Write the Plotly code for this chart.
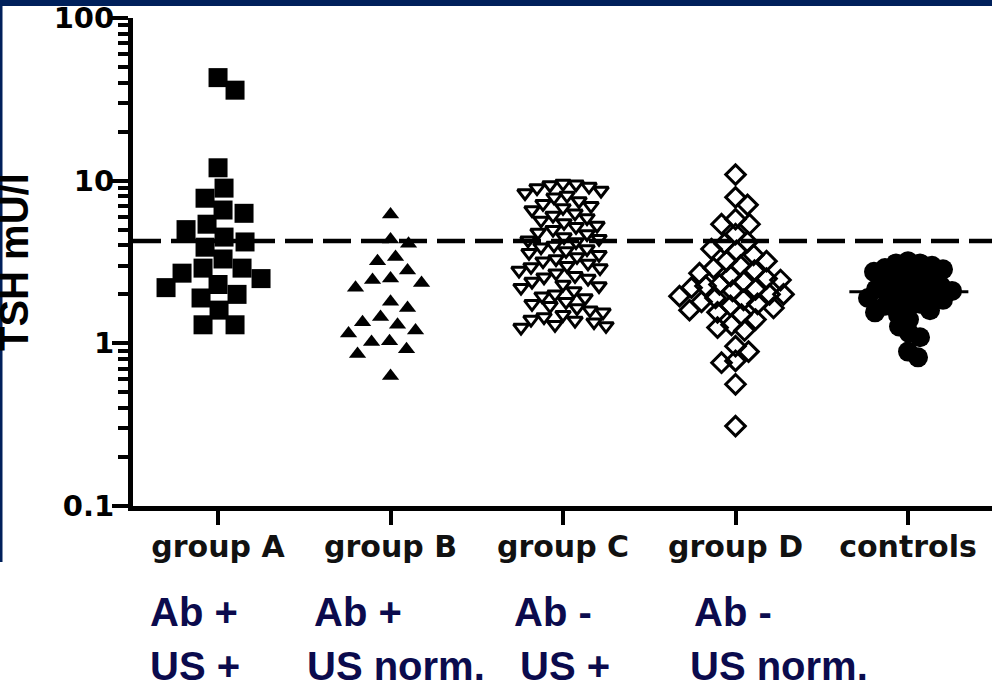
import numpy as np
import plotly.graph_objects as go

# ---------------- data ----------------
categories = ["group A", "group B", "group C", "group D", "controls"]

group_a = [43, 36, 12, 9.0, 7.8, 6.6, 6.3, 5.4, 5.0, 4.5, 4.2, 3.9, 3.3, 2.9, 2.9,
           2.7, 2.5, 2.3, 2.2, 2.0, 1.9, 1.6, 1.3, 1.3]
group_b = [6.2, 4.35, 4.1, 3.4, 3.2, 2.8, 2.5, 2.45, 2.35, 2.2, 1.8, 1.65, 1.45,
           1.35, 1.3, 1.2, 1.15, 1.03, 1.02, 0.92, 0.86, 0.63]
group_c = [9.6, 9.5, 9.4, 9.2, 9.0, 8.7, 8.4, 8.1, 7.9, 7.5, 7.2, 7.0, 6.8, 6.6,
           6.3, 6.1, 5.9, 5.7, 5.5, 5.3, 5.2, 5.0, 4.8, 4.7, 4.5, 4.4, 4.3, 4.2,
           4.0, 3.9, 3.8, 3.7, 3.6, 3.5, 3.4, 3.3, 3.2, 3.1, 3.0, 2.95, 2.9, 2.8,
           2.7, 2.6, 2.55, 2.5, 2.4, 2.3, 2.25, 2.2, 2.1, 2.0, 1.95, 1.9, 1.8,
           1.75, 1.7, 1.65, 1.6, 1.55, 1.5, 1.45, 1.4, 1.38, 1.35, 1.3, 1.28, 1.25]
group_d = [10.9, 7.9, 7.1, 5.8, 5.4, 5.4, 4.7, 4.2, 4.1, 3.8, 3.7, 3.5, 3.2, 3.2,
           3.0, 2.9, 2.8, 2.7, 2.6, 2.5, 2.45, 2.4, 2.3, 2.25, 2.2, 2.15, 2.1,
           2.0, 2.0, 1.95, 1.9, 1.85, 1.8, 1.75, 1.7, 1.65, 1.6, 1.55, 1.5, 1.4,
           1.3, 1.25, 1.2, 0.96, 0.89, 0.78, 0.76, 0.56, 0.31]
controls = [3.2, 3.1, 3.1, 3.0, 2.9, 2.85, 2.75, 2.7, 2.6, 2.5, 2.45, 2.4, 2.3,
            2.25, 2.2, 2.15, 2.1, 2.1, 2.05, 2.0, 1.95, 1.9, 1.85, 1.8, 1.75,
            1.7, 1.65, 1.6, 1.55, 1.5, 1.4, 1.27, 1.16, 1.09, 0.89, 0.82]

upper_limit = 4.25         # dashed reference line (mU/l)
y_tick_vals = [0.1, 1, 10, 100]
y_tick_text = ["0.1", "1", "10", "100"]
minor_tick_vals = [m * d for d in (0.1, 1, 10) for m in range(2, 10)]

line1_labels = ["Ab +", "Ab +", "Ab -", "Ab -"]
line2_labels = ["US +", "US norm.", "US +", "US norm."]

# ---------------- layout constants ----------------
W, H = 992, 690
ML, MR, MT, MB = 133, 0, 18, 184
PLOT_W = W - ML - MR
PLOT_H = H - MT - MB
X_RANGE = [-0.493, 4.487]
PX_PER_UNIT = PLOT_W / (X_RANGE[1] - X_RANGE[0])
PX_PER_DEC = PLOT_H / 3.0
NAVY = "#00205b"
TEXT_NAVY = "#0b0b4d"


def swarm(vals, sep):
    """Simple beeswarm: horizontal offsets (in x-axis units) so markers do not collide."""
    ys = np.log10(np.asarray(vals, float)) * PX_PER_DEC
    order = np.argsort(-ys)
    cands = sorted(range(-70, 71), key=lambda c: (abs(c), -c))
    placed = []
    offs = np.zeros(len(ys))
    for i in order:
        y = ys[i]
        for c in cands:
            if all((c - px) ** 2 + (y - py) ** 2 >= sep ** 2 for px, py in placed):
                break
        placed.append((c, y))
        offs[i] = c
    return offs / PX_PER_UNIT


series = [
    (group_a, dict(symbol="square", size=19, color="black"), 21),
    (group_b, dict(symbol="triangle-up", size=15, color="black"), 18),
    (group_c, dict(symbol="triangle-down-open", size=13, color="black",
                   line=dict(width=3, color="black")), 12.5),
    (group_d, dict(symbol="diamond-open", size=15, color="black",
                   line=dict(width=3, color="black")), 14),
    (controls, dict(symbol="circle", size=20, color="black",
                    line=dict(width=0)), 11.5),
]

fig = go.Figure()
for idx, (vals, marker, sep) in enumerate(series):
    xs = idx + swarm(vals, sep)
    fig.add_trace(go.Scatter(x=xs, y=vals, mode="markers", marker=marker,
                             showlegend=False, hoverinfo="skip", cliponaxis=False))

# control median line
med = float(np.median(controls))
fig.add_shape(type="line", xref="x", yref="y", x0=4 - 0.34, x1=4 + 0.35,
              y0=med, y1=med, line=dict(color="black", width=3), layer="below")

# dashed upper reference line
fig.add_shape(type="line", xref="paper", yref="y", x0=0, x1=1,
              y0=upper_limit, y1=upper_limit,
              line=dict(color="black", width=4.5, dash="28px,10px"), layer="above")


def px2paper_x(px):
    return (px - ML) / PLOT_W


def px2paper_y(py):
    return (H - MB - py) / PLOT_H


# navy frame pieces
fig.add_shape(type="rect", xref="paper", yref="paper",
              x0=px2paper_x(0), x1=px2paper_x(W), y0=px2paper_y(6), y1=px2paper_y(0),
              fillcolor=NAVY, line=dict(width=0), layer="above")
fig.add_shape(type="rect", xref="paper", yref="paper",
              x0=px2paper_x(0), x1=px2paper_x(2.5), y0=px2paper_y(562), y1=px2paper_y(0),
              fillcolor=NAVY, line=dict(width=0), layer="above")

# y title
fig.add_annotation(text="TSH mU/l", xref="paper", yref="paper",
                   x=px2paper_x(14), y=px2paper_y(262), textangle=-90,
                   showarrow=False, xanchor="center", yanchor="middle",
                   font=dict(family="Liberation Sans", size=40, color="black", weight="bold"))

# bottom annotation rows
line1_x = [148, 312, 512, 692]
line2_x = [148, 305, 518, 688]
for t, px in zip(line1_labels, line1_x):
    fig.add_annotation(text=t, xref="paper", yref="paper", x=px2paper_x(px),
                       y=px2paper_y(612), xanchor="left", yanchor="middle",
                       showarrow=False,
                       font=dict(family="Liberation Sans", size=40, color=TEXT_NAVY, weight="bold"))
for t, px in zip(line2_labels, line2_x):
    fig.add_annotation(text=t, xref="paper", yref="paper", x=px2paper_x(px),
                       y=px2paper_y(666), xanchor="left", yanchor="middle",
                       showarrow=False,
                       font=dict(family="Liberation Sans", size=40, color=TEXT_NAVY, weight="bold"))

fig.update_layout(
    width=W, height=H,
    margin=dict(l=ML, r=MR, t=MT, b=MB),
    paper_bgcolor="white", plot_bgcolor="white",
    xaxis=dict(range=X_RANGE, tickmode="array", tickvals=list(range(len(categories))),
               ticktext=categories, showgrid=False, zeroline=False,
               showline=True, linecolor="black", linewidth=5,
               ticks="outside", ticklen=14, tickwidth=4, tickcolor="black",
               ticklabelstandoff=-4,
               tickfont=dict(family="DejaVu Sans", size=30, color="#111111", weight="bold")),
    yaxis=dict(type="log", range=[-1, 2], tickmode="array", tickvals=y_tick_vals,
               ticktext=y_tick_text, showgrid=False, zeroline=False,
               showline=True, linecolor="black", linewidth=5,
               ticks="outside", ticklen=16, tickwidth=4, tickcolor="black",
               ticklabelstandoff=-8,
               tickfont=dict(family="DejaVu Sans", size=29, color="black", weight="bold"),
               minor=dict(tickmode="array", tickvals=minor_tick_vals, ticks="outside",
                          ticklen=10, tickwidth=3.5, tickcolor="black", showgrid=False)),
)

fig.write_html("out.html", config={"displayModeBar": False},
               post_script="document.body.style.margin='0';document.body.style.padding='0';")
